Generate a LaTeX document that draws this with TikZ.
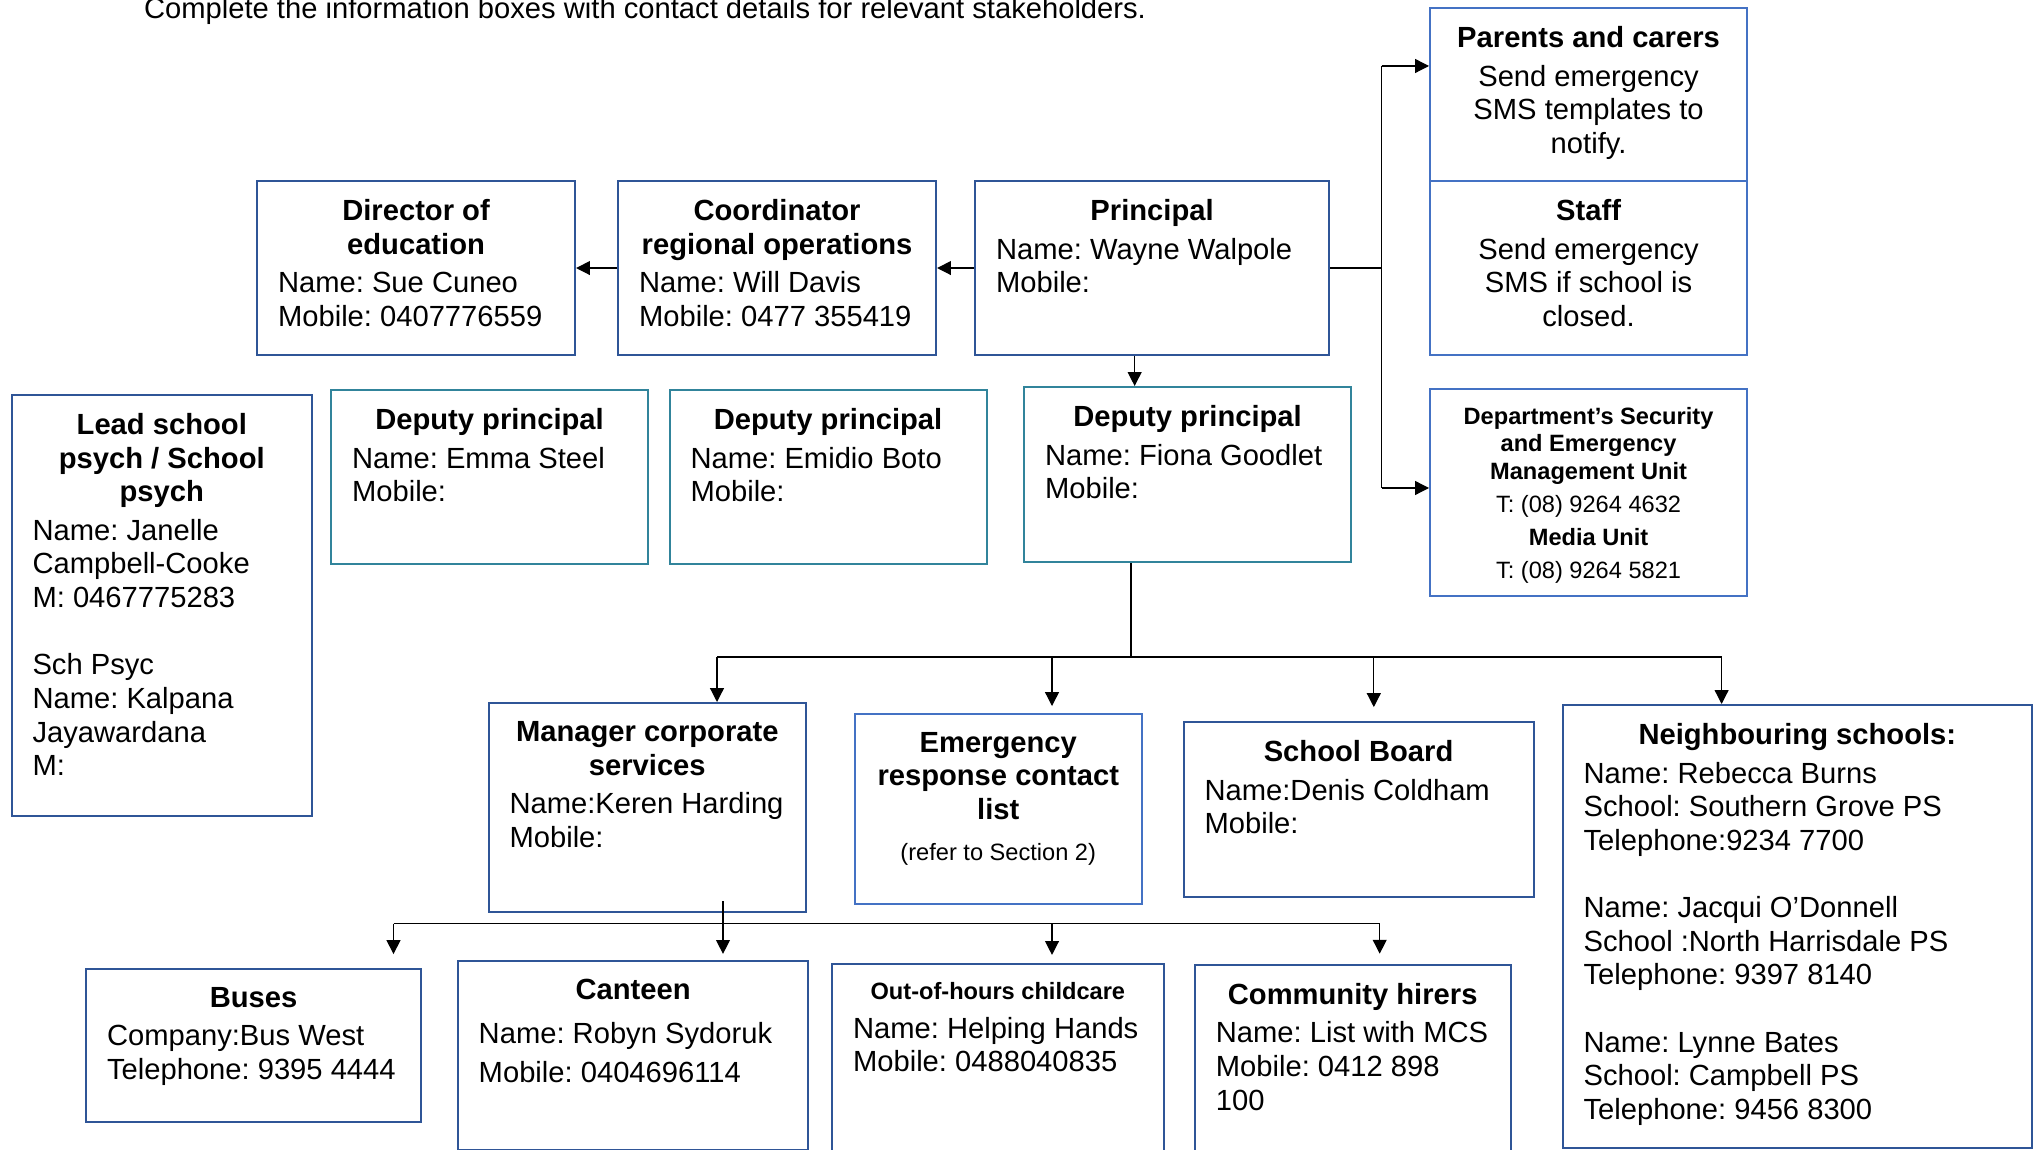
\documentclass[tikz,border=0pt]{standalone}
\usepackage{fontspec}
\setmainfont{Liberation Sans}
\usetikzlibrary{arrows.meta}
\frenchspacing

\newlength{\unitpx}
\setlength{\unitpx}{0.36pt}
\definecolor{navyline}{RGB}{47,85,151}
\definecolor{tealline}{RGB}{49,132,155}
\definecolor{skyline}{RGB}{68,114,196}

\newcommand{\boxtitle}[1]{{\centering\bfseries #1\par}\vspace{1.8pt}}
\newcommand{\cellbox}[3]{\parbox[t][\dimexpr#2\unitpx-13.2pt\relax][t]{#1\unitpx}{\raggedright\leftskip=7.56pt\relax #3}}

\tikzset{
  infobox/.style={anchor=north west, inner xsep=0pt, inner ysep=6.6pt, line width=0.75pt, font=\fontsize{10.5}{12.1}\selectfont},
  navybox/.style={infobox, draw=navyline},
  tealbox/.style={infobox, draw=tealline},
  skybox/.style={infobox, draw=skyline},
  link/.style={line width=0.45pt},
  arr/.style={link, -{Triangle[length=5pt,width=5pt]}},
}

\begin{document}
\begin{tikzpicture}[x=0.36pt,y=0.36pt,yscale=-1,xscale=1]
\useasboundingbox (0,0) rectangle (2037,1150);

%Text Node
\node[anchor=base west, inner sep=0pt, font=\fontsize{10.5}{12.1}\selectfont] (intro) at (143.5,18.3) {Complete the information boxes with contact details for relevant stakeholders.};

%Shape: Rectangle - top row
\node[navybox] (director) at (256,180) {\cellbox{318}{174}{\boxtitle{Director of\\education}Name: Sue Cuneo\\Mobile: 0407776559}};
\node[navybox] (coordinator) at (617,180) {\cellbox{318}{174}{\boxtitle{Coordinator\\regional operations}Name: Will Davis\\Mobile: 0477 355419}};
\node[navybox] (principal) at (974,180) {\cellbox{354}{174}{\boxtitle{Principal}Name: Wayne Walpole\\Mobile:}};

%Shape: Rectangle - right column
\node[skybox] (parents) at (1429,7) {\cellbox{317}{173}{\boxtitle{Parents and carers}{\centering Send emergency\\SMS templates to\\notify.\par}}};
\node[skybox] (staff) at (1429,180) {\cellbox{317}{174}{\boxtitle{Staff}{\centering Send emergency\\SMS if school is\\closed.\par}}};
\node[skybox] (dept) at (1429,388) {\cellbox{317}{207}{\fontsize{8.5}{9.9}\selectfont\centering\parskip=2pt {\bfseries Department’s Security\\and Emergency\\Management Unit\par}T: (08) 9264 4632\par{\bfseries Media Unit\par}T: (08) 9264 5821\par}};

%Shape: Rectangle - deputies
\node[navybox] (lead) at (10.5,394) {\cellbox{300.5}{421}{\boxtitle{Lead school\\psych / School\\psych}Name: Janelle\\Campbell-Cooke\\M: 0467775283\\[12.1pt]Sch Psyc\\Name: Kalpana\\Jayawardana\\M:}};
\node[tealbox] (emma) at (330,389) {\cellbox{317}{174}{\boxtitle{Deputy principal}Name: Emma Steel\\Mobile:}};
\node[tealbox] (emidio) at (668.5,389) {\cellbox{317}{174}{\boxtitle{Deputy principal}Name: Emidio Boto\\Mobile:}};
\node[tealbox] (fiona) at (1023,386) {\cellbox{327}{175}{\boxtitle{Deputy principal}Name: Fiona Goodlet\\Mobile:}};

%Shape: Rectangle - middle row
\node[navybox] (manager) at (487.5,702) {\cellbox{317.5}{209}{\boxtitle{Manager corporate\\services}Name:Keren Harding\\Mobile:}};
\node[skybox] (emergency) at (853.7,712.7) {\cellbox{287}{190}{\boxtitle{Emergency\\response contact\\list}\vspace{3pt}{\centering\fontsize{8.5}{9.9}\selectfont (refer to Section 2)\par}}};
\node[navybox] (board) at (1182.5,721) {\cellbox{350}{175}{\boxtitle{School Board}Name:Denis Coldham\\Mobile:}};
\node[navybox] (neighbours) at (1561.5,704) {\cellbox{469.5}{442.5}{\boxtitle{Neighbouring schools:}Name: Rebecca Burns\\School: Southern Grove PS\\Telephone:9234 7700\\[12.1pt]Name: Jacqui O’Donnell\\School :North Harrisdale PS\\Telephone: 9397 8140\\[12.1pt]Name: Lynne Bates\\School: Campbell PS\\Telephone: 9456 8300}};

%Shape: Rectangle - bottom row
\node[navybox] (buses) at (85,967.7) {\cellbox{335}{153}{\boxtitle{Buses}Company:Bus West\\Telephone: 9395 4444}};
\node[navybox] (canteen) at (456.7,960) {\cellbox{350.7}{189}{\fontsize{10.5}{14}\selectfont\boxtitle{Canteen}Name: Robyn Sydoruk\\Mobile: 0404696114}};
\node[navybox] (ooh) at (831,963) {\cellbox{331.6}{200}{{\fontsize{8.5}{9.9}\selectfont\boxtitle{Out-of-hours childcare}}Name: Helping Hands\\Mobile: 0488040835}};
\node[navybox] (community) at (1193.8,963.7) {\cellbox{315.7}{200}{\boxtitle{Community hirers}Name: List with MCS\\Mobile: 0412 898\\100}};

%Straight Lines - top row
\draw[arr] (principal.west) -- (coordinator.east);
\draw[arr] (coordinator.west) -- (director.east);
\path (principal.south) ++(-17.4,0) coordinate (pdrop);
\draw[arr] (pdrop) -- (pdrop |- fiona.north);

%Straight Lines - right fork
\coordinate (rtop) at (1381.6,66);
\coordinate (rbot) at (1381.6,488);
\coordinate (rmid) at (rtop |- principal.east);
\draw[link] (principal.east) -- (rmid);
\draw[link] (rtop) -- (rbot);
\draw[arr] (rtop) -- (rtop -| parents.west);
\draw[arr] (rbot) -- (rbot -| dept.west);

%Straight Lines - middle bus
\coordinate (fork) at (1131,657);
\coordinate (busl) at (717,657);
\coordinate (busb) at (1052,657);
\coordinate (busc) at (1373.8,657);
\coordinate (busr) at (1721.6,657);
\draw[link] (fiona.south -| fork) -- (fork);
\draw[link] (busl) -- (busr);
\draw[arr] (busl) -- (busl |- manager.north);
\draw[arr, shorten >=2.4pt] (busb) -- (busb |- emergency.north);
\draw[arr, shorten >=5pt] (busc) -- (busc |- board.north);
\draw[arr] (busr) -- (busr |- neighbours.north);

%Straight Lines - bottom bus
\coordinate (lowl) at (393.5,923.7);
\coordinate (drop) at (723,923.7);
\coordinate (lowb) at (1052,923.7);
\coordinate (lowr) at (1379.7,923.7);
\path (drop |- manager.south) ++(0,-12) coordinate (mgrout);
\draw[link] (lowl) -- (lowr);
\draw[arr, shorten >=2.2pt] (mgrout) -- (drop |- canteen.north);
\draw[arr, shorten >=4.9pt] (lowl) -- (lowl |- buses.north);
\draw[arr, shorten >=2.9pt] (lowb) -- (lowb |- ooh.north);
\draw[arr, shorten >=3.6pt] (lowr) -- (lowr |- community.north);

\end{tikzpicture}
\end{document}
